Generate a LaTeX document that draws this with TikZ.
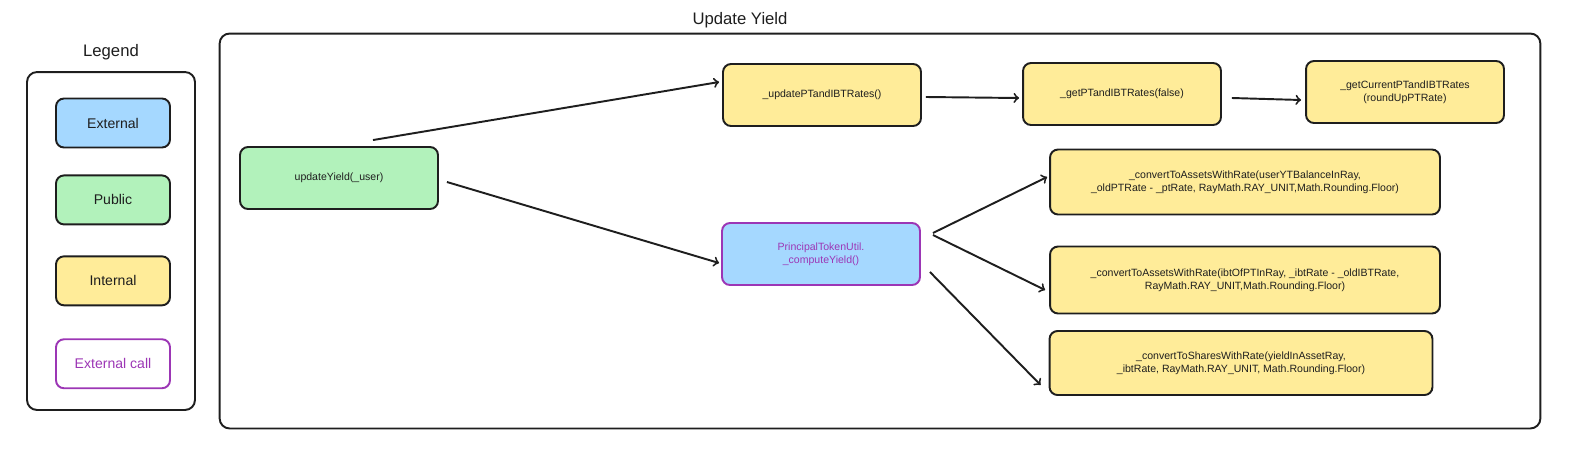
\documentclass[tikz,border=0pt]{standalone}
\usepackage{fontspec}
\setmainfont{Liberation Sans}
\usetikzlibrary{positioning}
\definecolor{xblue}{HTML}{A5D8FF}
\definecolor{xgreen}{HTML}{B2F2BB}
\definecolor{xyellow}{HTML}{FFEC99}
\definecolor{xpurp}{HTML}{9C36B5}
\definecolor{xink}{HTML}{1E1E1E}
\tikzstyle{frame} = [rectangle, rounded corners=0.2cm, draw=xink, line width=1.1pt]
\tikzstyle{func} = [rectangle, rounded corners=0.16cm, minimum width=3.96cm, minimum height=1.24cm, draw=xink, line width=1.1pt, text=xink, text centered, font=\fontsize{6}{7.5}\selectfont]
\tikzstyle{public} = [func, fill=xgreen]
\tikzstyle{internal} = [func, fill=xyellow]
\tikzstyle{external} = [func, fill=xblue]
\tikzstyle{extcall} = [draw=xpurp, text=xpurp]
\tikzstyle{key} = [minimum width=2.28cm, minimum height=0.98cm, font=\fontsize{8}{10}\selectfont]
\tikzstyle{longcall} = [internal, minimum width=7.8cm, minimum height=1.3cm]
\tikzstyle{title} = [text=xink, font=\fontsize{9.5}{11}\selectfont]
\tikzstyle{call} = [line width=1.1pt, draw=xink, ->, >=to]

\begin{document}
\begin{tikzpicture}[x=0.02cm, y=-0.02cm, align=center, node distance=0.58cm]
  \useasboundingbox (0,0) rectangle (1574,457);
  % frames
  \node (legend) [frame, minimum width=3.36cm, minimum height=6.76cm] at (111,241) {};
  \node (main) [frame, minimum width=26.42cm, minimum height=7.9cm] at (880,231) {};
  \node (legendtitle) [title] at (111,52) {Legend};
  \node (maintitle) [title] at (740,20) {Update Yield};
  % legend
  \node (ext) [external, key] at (113,123) {External};
  \node (pub) [public, key, below = 0.52cm of ext] {Public};
  \node (int) [internal, key, below = 0.6cm of pub] {Internal};
  \node (xcall) [func, key, extcall, below = 0.64cm of int] {External call};
  % calls
  \node (update) [public] at (339,178) {updateYield(\_user)};
  \node (uprates) [internal] at (822,95) {\_updatePTandIBTRates()};
  \node (getrates) [internal] at (1122,94) {\_getPTandIBTRates(false)};
  \node (current) [internal] at (1405,92) {\_getCurrentPTandIBTRates\\(roundUpPTRate)};
  \node (compute) [external, extcall] at (821,254) {PrincipalTokenUtil.\\\_computeYield()};
  \node (conv1) [longcall] at (1245,182) {\_convertToAssetsWithRate(userYTBalanceInRay,\\\_oldPTRate - \_ptRate, RayMath.RAY\_UNIT,Math.Rounding.Floor)};
  \node (conv2) [longcall, minimum height=1.34cm] at (1245,280) {\_convertToAssetsWithRate(ibtOfPTInRay, \_ibtRate - \_oldIBTRate,\\RayMath.RAY\_UNIT,Math.Rounding.Floor)};
  \node (conv3) [longcall, minimum width=7.66cm, minimum height=1.28cm] at (1241,363) {\_convertToSharesWithRate(yieldInAssetRay,\\\_ibtRate, RayMath.RAY\_UNIT, Math.Rounding.Floor)};
  \draw [call] ([shift={(34,-6)}]update.north) -- ([shift={(-3,-13)}]uprates.west);
  \draw [call] ([shift={(8,4)}]update.east) -- ([shift={(-2,9)}]compute.west);
  \draw [call] ([shift={(4,2)}]uprates.east) -- ([shift={(-3,4)}]getrates.west);
  \draw [call] ([shift={(10,4)}]getrates.east) -- ([shift={(-4,8)}]current.west);
  \draw [call] ([shift={(12,-21)}]compute.east) -- ([shift={(-2,-5)}]conv1.west);
  \draw [call] ([shift={(12,-19)}]compute.east) -- ([shift={(-4,10)}]conv2.west);
  \draw [call] ([shift={(9,18)}]compute.east) -- ([shift={(-8,22)}]conv3.west);
\end{tikzpicture}
\end{document}
